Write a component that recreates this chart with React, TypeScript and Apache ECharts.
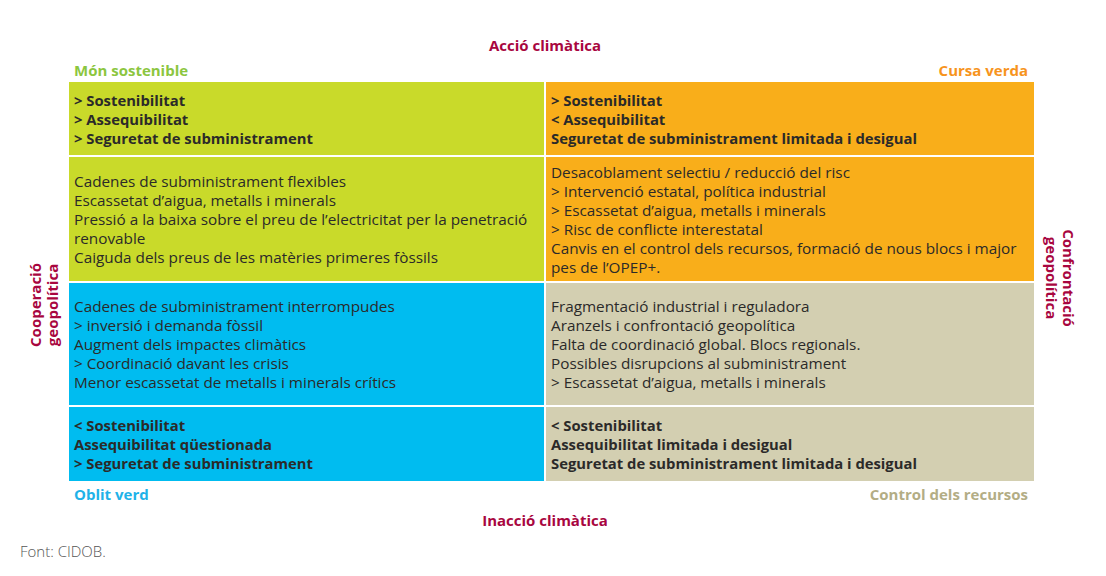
import React, { useEffect, useRef } from "react";
import * as echarts from "echarts";

// ---- data ----
const topLabel = "Acció climàtica";
const bottomLabel = "Inacció climàtica";
const leftLabel = "Cooperació\ngeopolítica";
const rightLabel = "Confrontació\ngeopolítica";
const quadrantNames = ["Món sostenible", "Cursa verda", "Oblit verd", "Control dels recursos"];
const sourceNote = "Font: CIDOB.";

// cells: [column, row]
const cellPositions: [number, number][] = [
  [0, 0], [1, 0], [0, 1], [1, 1], [0, 2], [1, 2], [0, 3], [1, 3],
];
const cellQuadrant = [0, 1, 0, 1, 2, 3, 2, 3];
const cellBold = [true, true, false, false, false, false, true, true];
const cellLines: string[][] = [
  ["> Sostenibilitat", "> Assequibilitat", "> Seguretat de subministrament"],
  ["> Sostenibilitat", "< Assequibilitat", "Seguretat de subministrament limitada i desigual"],
  [
    "Cadenes de subministrament flexibles",
    "Escassetat d’aigua, metalls i minerals",
    "Pressió a la baixa sobre el preu de l’electricitat per la penetració",
    "renovable",
    "Caiguda dels preus de les matèries primeres fòssils",
  ],
  [
    "Desacoblament selectiu / reducció del risc",
    "> Intervenció estatal, política industrial",
    "> Escassetat d’aigua, metalls i minerals",
    "> Risc de conflicte interestatal",
    "Canvis en el control dels recursos, formació de nous blocs i major",
    "pes de l’OPEP+.",
  ],
  [
    "Cadenes de subministrament interrompudes",
    "> inversió i demanda fòssil",
    "Augment dels impactes climàtics",
    "> Coordinació davant les crisis",
    "Menor escassetat de metalls i minerals crítics",
  ],
  [
    "Fragmentació industrial i reguladora",
    "Aranzels i confrontació geopolítica",
    "Falta de coordinació global. Blocs regionals.",
    "Possibles disrupcions al subministrament",
    "> Escassetat d’aigua, metalls i minerals",
  ],
  ["< Sostenibilitat", "Assequibilitat qüestionada", "> Seguretat de subministrament"],
  ["< Sostenibilitat", "Assequibilitat limitada i desigual", "Seguretat de subministrament limitada i desigual"],
];

// ---- styling / layout ----
const quadrantFill = ["#c9da2a", "#f9ae1a", "#00bcf0", "#d3cfb1"];
const quadrantLabelColor = ["#8cc63f", "#f7941d", "#1fb2e8", "#b3ad85"];
const colBounds = [0, 476, 965];
const rowBounds = [0, 74, 200, 324, 399];
const FONT = "'Open Sans', Lato, sans-serif";
const TEXT_COLOR = "#2b2a29";
const ACCENT = "#a8063f";
const FS_REG = 15.3;
const FS_BOLD = 14.8;
const FS_LABEL = 15;

export default function App() {
  const ref = useRef<HTMLDivElement>(null);

  useEffect(() => {
    if (!ref.current) return;
    const chart = echarts.init(ref.current, undefined, { renderer: "svg" });

    const data = cellPositions.map((p, i) => [p[0], p[1], cellQuadrant[i]]);
    const label = (text: string, x: number, y: number, fill: string, align: string, extra: any = {}) => ({
      type: "text", x, y, ...extra,
      style: { text, fontFamily: FONT, fontSize: FS_LABEL, fontWeight: "bold", fill, align, verticalAlign: "middle", lineHeight: 17 },
    });

    chart.setOption({
      animation: false,
      backgroundColor: "#ffffff",
      grid: { left: 69, right: 72, top: 82, bottom: 95 },
      xAxis: { type: "value", min: 0, max: 965, show: false },
      yAxis: { type: "value", min: 0, max: 399, inverse: true, show: false },
      series: [
        {
          type: "custom",
          data,
          renderItem: (params: any, api: any) => {
            const col = api.value(0);
            const row = api.value(1);
            const q = api.value(2);
            const idx = params.dataIndex;
            const p0 = api.coord([colBounds[col], rowBounds[row]]);
            const p1 = api.coord([colBounds[col + 1], rowBounds[row + 1]]);
            const x0 = p0[0] + (col === 0 ? 0 : 1);
            const x1 = p1[0] - (col === 0 ? 1 : 0);
            const y0 = p0[1] + (row === 0 ? 0 : 1);
            const y1 = p1[1] - (row === 3 ? 0 : 1);
            const bold = cellBold[idx];
            return {
              type: "group",
              children: [
                {
                  type: "rect",
                  shape: { x: x0, y: y0, width: x1 - x0, height: y1 - y0 },
                  style: { fill: quadrantFill[q] },
                },
                {
                  type: "text",
                  x: x0 + 5,
                  y: (y0 + y1) / 2,
                  style: {
                    text: cellLines[idx].join("\n"),
                    fontFamily: FONT,
                    fontSize: bold ? FS_BOLD : FS_REG,
                    fontWeight: bold ? "bold" : "normal",
                    fill: TEXT_COLOR,
                    lineHeight: 19,
                    align: "left",
                    verticalAlign: "middle",
                  },
                },
              ],
            };
          },
        },
      ],
      graphic: [
        label(topLabel, 545, 45, ACCENT, "center"),
        label(bottomLabel, 545, 520, ACCENT, "center"),
        label(quadrantNames[0], 74, 70, quadrantLabelColor[0], "left"),
        label(quadrantNames[1], 1028, 70, quadrantLabelColor[1], "right"),
        label(quadrantNames[2], 74, 494, quadrantLabelColor[2], "left"),
        label(quadrantNames[3], 1028, 494, quadrantLabelColor[3], "right"),
        label(leftLabel, 43, 305, ACCENT, "center", { rotation: Math.PI / 2 }),
        label(rightLabel, 1060, 278, ACCENT, "center", { rotation: -Math.PI / 2 }),
        {
          type: "text", x: 20, y: 551,
          style: { text: sourceNote, fontFamily: FONT, fontSize: 15, fontWeight: 300, fill: "#555555", align: "left", verticalAlign: "middle" },
        },
      ],
    });

    return () => chart.dispose();
  }, []);

  return <div ref={ref} style={{ width: 1106, height: 576, position: "absolute", left: 0, top: 0 }} />;
}
